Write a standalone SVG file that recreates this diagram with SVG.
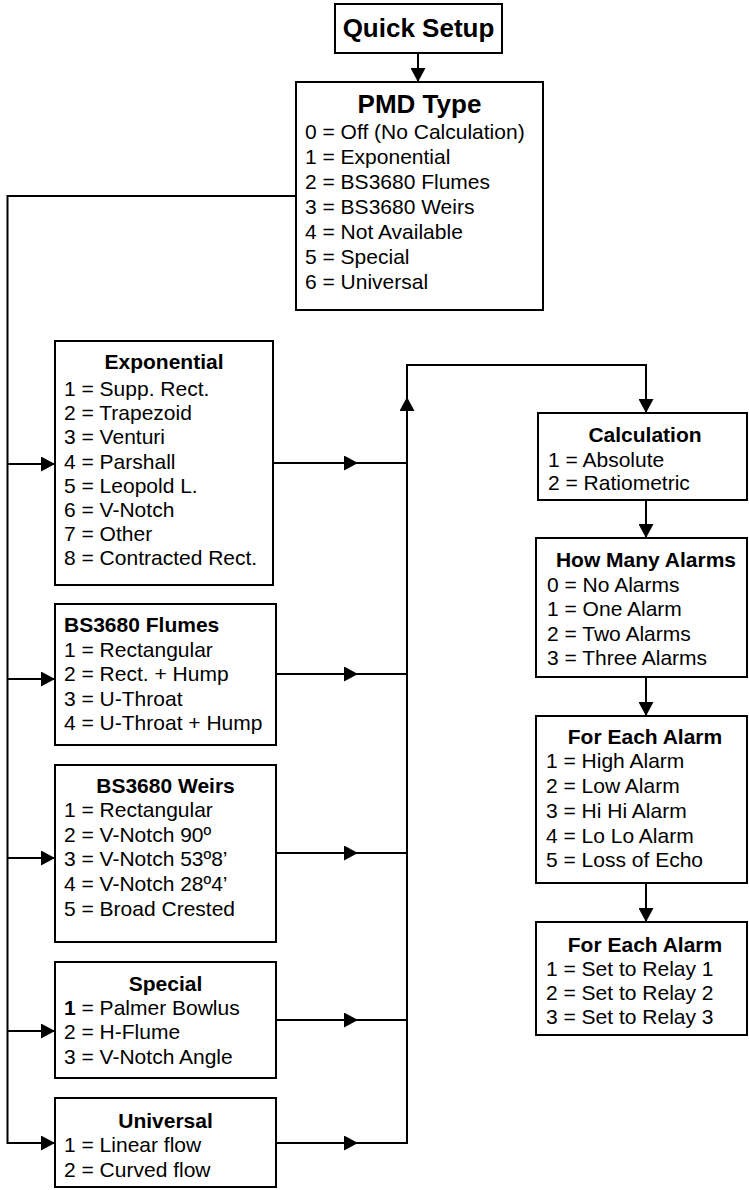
<svg xmlns="http://www.w3.org/2000/svg" width="749" height="1190" viewBox="0 0 749 1190">
<style>
.box{fill:#fff;stroke:#000;stroke-width:2}
.ln{fill:none;stroke:#000;stroke-width:2}
.t{font-family:"Liberation Sans",Arial,sans-serif;font-size:21px;fill:#000}
.b{font-family:"Liberation Sans",Arial,sans-serif;font-size:21px;font-weight:bold;fill:#000}
.h{font-family:"Liberation Sans",Arial,sans-serif;font-size:26px;font-weight:bold;fill:#000}
.c{text-anchor:middle}
</style>
<defs>
<marker id="ah" viewBox="0 0 14 15" refX="14" refY="7.5" markerWidth="14" markerHeight="15" markerUnits="userSpaceOnUse" orient="auto">
<path d="M0,0 L14,7.5 L0,15 Z" fill="#000"/>
</marker>
</defs>
<g id="connectors">
<path class="ln" d="M418,53 V82" marker-end="url(#ah)"/>
<path class="ln" d="M296,196 H7.5 V1143 H55" marker-end="url(#ah)"/>
<path class="ln" d="M7.5,464 H55" marker-end="url(#ah)"/>
<path class="ln" d="M7.5,679 H55" marker-end="url(#ah)"/>
<path class="ln" d="M7.5,858 H55" marker-end="url(#ah)"/>
<path class="ln" d="M7.5,1031 H55" marker-end="url(#ah)"/>
<path class="ln" d="M273,463 L358,463 L407,463" marker-mid="url(#ah)"/>
<path class="ln" d="M276,674 L358,674 L407,674" marker-mid="url(#ah)"/>
<path class="ln" d="M276,853 L358,853 L407,853" marker-mid="url(#ah)"/>
<path class="ln" d="M276,1020 L358,1020 L407,1020" marker-mid="url(#ah)"/>
<path class="ln" d="M276,1143 L358,1143 L407,1143" marker-mid="url(#ah)"/>
<path class="ln" d="M407,1144 V397" marker-end="url(#ah)"/>
<path class="ln" d="M407,397 V365 H646 V413" marker-end="url(#ah)"/>
<path class="ln" d="M646,500 V538" marker-end="url(#ah)"/>
<path class="ln" d="M646,677 V716" marker-end="url(#ah)"/>
<path class="ln" d="M646,883 V922" marker-end="url(#ah)"/>
</g>
<g id="quick-setup">
<rect class="box" x="335" y="4" width="167" height="49"/>
<text class="h c" x="418.5" y="37">Quick Setup</text>
</g>
<g id="pmd-type">
<rect class="box" x="296" y="82" width="247" height="228"/>
<text class="h c" x="419.5" y="113">PMD Type</text>
<text class="t" x="305" y="139">0 = Off (No Calculation)</text>
<text class="t" x="305" y="164">1 = Exponential</text>
<text class="t" x="305" y="189">2 = BS3680 Flumes</text>
<text class="t" x="305" y="214">3 = BS3680 Weirs</text>
<text class="t" x="305" y="239">4 = Not Available</text>
<text class="t" x="305" y="264">5 = Special</text>
<text class="t" x="305" y="289">6 = Universal</text>
</g>
<g id="exponential">
<rect class="box" x="55" y="341" width="218" height="244"/>
<text class="b c" x="164" y="369">Exponential</text>
<text class="t" x="64" y="396">1 = Supp. Rect.</text>
<text class="t" x="64" y="420">2 = Trapezoid</text>
<text class="t" x="64" y="444">3 = Venturi</text>
<text class="t" x="64" y="469">4 = Parshall</text>
<text class="t" x="64" y="493">5 = Leopold L.</text>
<text class="t" x="64" y="517">6 = V-Notch</text>
<text class="t" x="64" y="541">7 = Other</text>
<text class="t" x="64" y="565">8 = Contracted Rect.</text>
</g>
<g id="bs3680-flumes">
<rect class="box" x="55" y="604" width="221" height="141"/>
<text class="b" x="64" y="632">BS3680 Flumes</text>
<text class="t" x="64" y="657">1 = Rectangular</text>
<text class="t" x="64" y="681">2 = Rect. + Hump</text>
<text class="t" x="64" y="706">3 = U-Throat</text>
<text class="t" x="64" y="730">4 = U-Throat + Hump</text>
</g>
<g id="bs3680-weirs">
<rect class="box" x="55" y="765" width="221" height="177"/>
<text class="b c" x="165.5" y="793">BS3680 Weirs</text>
<text class="t" x="64" y="817">1 = Rectangular</text>
<text class="t" x="64" y="842">2 = V-Notch 90º</text>
<text class="t" x="64" y="866">3 = V-Notch 53º8’</text>
<text class="t" x="64" y="891">4 = V-Notch 28º4’</text>
<text class="t" x="64" y="916">5 = Broad Crested</text>
</g>
<g id="special">
<rect class="box" x="55" y="962" width="221" height="116"/>
<text class="b c" x="165.5" y="991">Special</text>
<text class="t" x="64" y="1015"><tspan font-weight="bold">1</tspan> = Palmer Bowlus</text>
<text class="t" x="64" y="1039">2 = H-Flume</text>
<text class="t" x="64" y="1064">3 = V-Notch Angle</text>
</g>
<g id="universal">
<rect class="box" x="55" y="1098" width="221" height="89"/>
<text class="b c" x="165.5" y="1128">Universal</text>
<text class="t" x="64" y="1152">1 = Linear flow</text>
<text class="t" x="64" y="1177">2 = Curved flow</text>
</g>
<g id="calculation">
<rect class="box" x="538" y="413" width="209" height="87"/>
<text class="b c" x="645" y="442">Calculation</text>
<text class="t" x="548" y="467">1 = Absolute</text>
<text class="t" x="548" y="490">2 = Ratiometric</text>
</g>
<g id="how-many-alarms">
<rect class="box" x="536" y="538" width="211" height="139"/>
<text class="b c" x="646" y="567">How Many Alarms</text>
<text class="t" x="547" y="592">0 = No Alarms</text>
<text class="t" x="547" y="616">1 = One Alarm</text>
<text class="t" x="547" y="641">2 = Two Alarms</text>
<text class="t" x="547" y="665">3 = Three Alarms</text>
</g>
<g id="for-each-alarm-type">
<rect class="box" x="536" y="716" width="211" height="167"/>
<text class="b c" x="645" y="744">For Each Alarm</text>
<text class="t" x="546" y="768">1 = High Alarm</text>
<text class="t" x="546" y="793">2 = Low Alarm</text>
<text class="t" x="546" y="818">3 = Hi Hi Alarm</text>
<text class="t" x="546" y="843">4 = Lo Lo Alarm</text>
<text class="t" x="546" y="867">5 = Loss of Echo</text>
</g>
<g id="for-each-alarm-relay">
<rect class="box" x="536" y="922" width="211" height="113"/>
<text class="b c" x="645" y="952">For Each Alarm</text>
<text class="t" x="546" y="976">1 = Set to Relay 1</text>
<text class="t" x="546" y="1000">2 = Set to Relay 2</text>
<text class="t" x="546" y="1024">3 = Set to Relay 3</text>
</g>
</svg>
